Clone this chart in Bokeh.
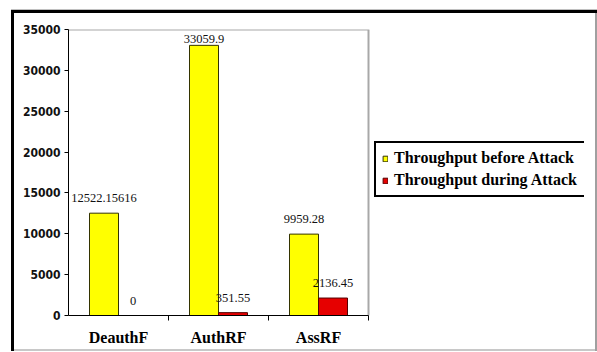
from bokeh.plotting import figure
from bokeh.models import (ColumnDataSource, Range1d, FixedTicker, Legend, LegendItem,
                          LabelSet)
from bokeh.embed import file_html
from bokeh.resources import INLINE

categories = ["DeauthF", "AuthRF", "AssRF"]
before_attack = [12522.15616, 33059.9, 9959.28]
during_attack = [0, 351.55, 2136.45]
before_labels = ["12522.15616", "33059.9", "9959.28"]
during_labels = ["0", "351.55", "2136.45"]
y_ticks = [0, 5000, 10000, 15000, 20000, 25000, 30000, 35000]

Y_MAX = 35000
FRAME_H = 286
PLOT_W = 300      # pixel width of the bar area
FRAME_W = 516     # frame width (bar area + legend zone)
N = len(categories)
X_END = N * FRAME_W / PLOT_W

centers = [i + 0.5 for i in range(N)]
DODGE = 0.145
W = 0.29

def offsets(vals):
    out = []
    for v in vals:
        space = (Y_MAX - v) / Y_MAX * FRAME_H
        out.append(min(11.0, max(1.0, space - 13)))
    return out

src_b = ColumnDataSource(dict(x=[c - DODGE for c in centers], top=before_attack,
                              lab=before_labels, off=offsets(before_attack)))
src_d = ColumnDataSource(dict(x=[c + DODGE for c in centers], top=during_attack,
                              lab=during_labels, off=offsets(during_attack)))

p = figure(width=597, height=352, output_backend="svg", toolbar_location=None,
           x_range=Range1d(0, X_END), y_range=Range1d(0, Y_MAX),
           min_border_left=68, min_border_right=597 - 68 - FRAME_W, min_border_top=29,
           min_border_bottom=37)
p.background_fill_color = "white"
p.border_fill_color = "white"
p.border_fill_alpha = 0
p.outline_line_color = None
p.xgrid.visible = False
p.ygrid.visible = False
p.styles = {
    "background": ("linear-gradient(#000,#000) 11px 10px / 586px 3px no-repeat, "
                   "linear-gradient(#000,#000) 11px 10px / 3px 341px no-repeat, "
                   "linear-gradient(#a0a0a0,#a0a0a0) 595px 10px / 2px 341px no-repeat, "
                   "linear-gradient(#c8c8c8,#c8c8c8) 11px 349px / 586px 2px no-repeat, "
                   "linear-gradient(#c0c0c0,#c0c0c0) 11px 9px / 586px 1px no-repeat, "
                   "#ffffff")
}

# plot-area border (top and right, light gray)
p.line(x=[0, N, N], y=[Y_MAX, Y_MAX, 0], line_color="#a8a8a8", line_width=2)

rb = p.vbar(x="x", top="top", width=W, source=src_b, fill_color="#ffff00",
            line_color="#333300", line_width=1)
rd = p.vbar(x="x", top="top", width=W, source=src_d, fill_color="#e60000",
            line_color="#550000", line_width=1)

for src in (src_b, src_d):
    lbl = LabelSet(x="x", y="top", text="lab", source=src, y_offset="off",
                   text_align="center", text_baseline="bottom",
                   text_font="DejaVu Sans Condensed", text_font_size="12.5px",
                   text_color="#111111")
    p.add_layout(lbl)

# y axis
p.yaxis.ticker = FixedTicker(ticks=y_ticks)
p.yaxis.axis_line_color = "black"
p.yaxis.major_tick_out = 4
p.yaxis.major_tick_in = 0
p.yaxis.minor_tick_line_color = None
p.yaxis.major_label_text_font = "DejaVu Sans Condensed"
p.yaxis.major_label_text_font_style = "bold"
p.yaxis.major_label_text_font_size = "12px"
p.yaxis.major_label_text_color = "#111111"
p.yaxis.major_label_standoff = 4

# x axis: labels at centers, ticks at category boundaries
p.xaxis.ticker = FixedTicker(ticks=centers, minor_ticks=list(range(1, N + 1)))
p.xaxis.major_label_overrides = {c: name for c, name in zip(centers, categories)}
p.xaxis.bounds = (0, N)
p.xaxis.axis_line_color = "black"
p.xaxis.major_tick_out = 0
p.xaxis.major_tick_in = 0
p.xaxis.minor_tick_out = 5
p.xaxis.minor_tick_in = 0
p.xaxis.minor_tick_line_color = "black"
p.xaxis.major_label_text_font = "Liberation Serif"
p.xaxis.major_label_text_font_style = "bold"
p.xaxis.major_label_text_font_size = "16px"
p.xaxis.major_label_text_color = "black"
p.xaxis.major_label_standoff = 8

legend = Legend(items=[LegendItem(label="Throughput before Attack", renderers=[rb]),
                       LegendItem(label="Throughput during Attack", renderers=[rd])],
                location=(PLOT_W + 6, 118))
legend.border_line_color = "black"
legend.border_line_alpha = 1.0
legend.border_line_width = 2
legend.background_fill_color = "white"
legend.background_fill_alpha = 1.0
legend.label_text_font = "Liberation Serif"
legend.label_text_font_style = "bold"
legend.label_text_font_size = "16px"
legend.label_text_color = "black"
legend.glyph_width = 6
legend.glyph_height = 7
legend.label_standoff = 6
legend.label_height = 18
legend.label_width = 184
legend.spacing = 4
legend.padding = 6
legend.margin = 0
p.add_layout(legend, "center")

open("out.html", "w").write(file_html(p, INLINE))
